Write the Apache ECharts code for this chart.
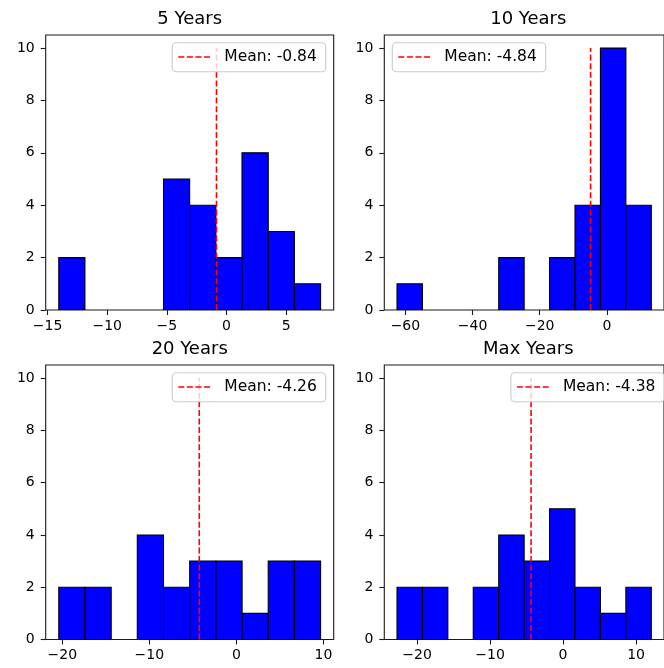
<!DOCTYPE html>
<html>
<head>
<meta charset="utf-8">
<script src="https://cdn.jsdelivr.net/npm/echarts@6/dist/echarts.min.js"></script>
<style>
  html, body { margin: 0; padding: 0; background: #ffffff; }
  #chart { width: 664px; height: 668px; }
</style>
</head>
<body>
<div id="chart"></div>
<script>
// Panel titles
const panelTitles = ['5 Years', '10 Years', '20 Years', 'Max Years'];

// Histogram bin edges (10 bins per panel)
const edges5 = [-14.06, -11.87, -9.67, -7.48, -5.28, -3.09, -0.89, 1.30, 3.50, 5.69, 7.89];
const edges10 = [-62.50, -54.93, -47.35, -39.78, -32.20, -24.63, -17.06, -9.48, -1.91, 5.67, 13.24];
const edges20 = [-20.40, -17.39, -14.38, -11.38, -8.37, -5.36, -2.35, 0.66, 3.66, 6.67, 9.68];
const edgesMax = [-22.74, -19.26, -15.78, -12.30, -8.81, -5.33, -1.85, 1.63, 5.12, 8.60, 12.08];

// Bin counts
const counts5 = [2, 0, 0, 0, 5, 4, 2, 6, 3, 1];
const counts10 = [1, 0, 0, 0, 2, 0, 2, 4, 10, 4];
const counts20 = [2, 2, 0, 4, 2, 3, 3, 1, 3, 3];
const countsMax = [2, 2, 0, 2, 4, 3, 5, 2, 1, 2];

// Mean of each distribution
const means = [-0.84, -4.84, -4.26, -4.38];

// Tick labels
const xTicks5 = [-15, -10, -5, 0, 5];
const xTicks10 = [-60, -40, -20, 0];
const xTicks20 = [-20, -10, 0, 10];
const xTicksMax = [-20, -10, 0, 10];
const yTicks = [0, 2, 4, 6, 8, 10];

const edgeSets = [edges5, edges10, edges20, edgesMax];
const countSets = [counts5, counts10, counts20, countsMax];
const xTickSets = [xTicks5, xTicks10, xTicks20, xTicksMax];
const legendSide = ['right', 'left', 'right', 'right'];

const FONT = 'DejaVu Sans';
const Y_MAX = 10.5;
const MEAN_LINE_TOP = 10;

// Panel boxes in pixels
const boxes = [
  { left: 45.7, top: 35, width: 288, height: 275 },
  { left: 384.3, top: 35, width: 288, height: 275 },
  { left: 45.7, top: 365, width: 288, height: 274.5 },
  { left: 384.3, top: 365, width: 288, height: 274.5 }
];

const fmt = v => String(v).replace('-', '\u2212');

const grids = [], xAxes = [], yAxes = [], series = [], graphics = [];

boxes.forEach((b, i) => {
  const edges = edgeSets[i];
  const counts = countSets[i];
  const lo = edges[0], hi = edges[edges.length - 1];
  const pad = (hi - lo) * 0.05;

  grids.push({
    left: b.left, top: b.top, width: b.width, height: b.height,
    show: true, borderColor: '#1a1a1a', borderWidth: 1.1, backgroundColor: 'transparent'
  });

  xAxes.push({
    type: 'value', gridIndex: i, min: lo - pad, max: hi + pad, position: 'bottom',
    axisLine: { show: false, onZero: false },
    splitLine: { show: false },
    axisTick: { show: true, length: 5, inside: false, customValues: xTickSets[i],
      lineStyle: { color: '#1a1a1a', width: 1.1 } },
    axisLabel: { customValues: xTickSets[i], formatter: fmt, margin: 9,
      color: '#000', fontFamily: FONT, fontSize: 14 }
  });

  yAxes.push({
    type: 'value', gridIndex: i, min: 0, max: Y_MAX, position: 'left',
    axisLine: { show: false, onZero: false },
    splitLine: { show: false },
    axisTick: { show: true, length: 5, inside: false, customValues: yTicks,
      lineStyle: { color: '#1a1a1a', width: 1.1 } },
    axisLabel: { customValues: yTicks, formatter: fmt, margin: 11,
      color: '#000', fontFamily: FONT, fontSize: 14 }
  });

  const binData = counts.map((c, k) => [edges[k], edges[k + 1], c]).filter(d => d[2] > 0);

  series.push({
    type: 'custom', xAxisIndex: i, yAxisIndex: i,
    encode: { x: [0, 1], y: 2 },
    data: binData,
    clip: true,
    renderItem: (params, api) => {
      const p0 = api.coord([api.value(0), 0]);
      const p1 = api.coord([api.value(1), api.value(2)]);
      return {
        type: 'rect',
        shape: { x: p0[0], y: p1[1], width: p1[0] - p0[0], height: p0[1] - p1[1] },
        style: { fill: '#0000ff', stroke: '#000000', lineWidth: 1.1 }
      };
    },
    z: 2
  });

  series.push({
    type: 'line', xAxisIndex: i, yAxisIndex: i,
    data: [[means[i], 0], [means[i], MEAN_LINE_TOP]],
    symbol: 'none',
    lineStyle: { color: '#ff0000', width: 1.6, type: [6, 2.6] },
    silent: true,
    z: 3
  });

  // Title above each panel
  graphics.push({
    type: 'text', z: 100,
    x: b.left + b.width / 2, y: b.top - 16,
    style: { text: panelTitles[i], fontFamily: FONT, fontSize: 18, fill: '#000',
      align: 'center', verticalAlign: 'middle' }
  });

  // Legend box
  const lw = 153.4, lh = 29;
  const lx = legendSide[i] === 'right' ? b.left + b.width - 8 - lw : b.left + 8;
  const ly = b.top + 7.7;
  graphics.push({
    type: 'rect', z: 100,
    shape: { x: lx, y: ly, width: lw, height: lh, r: 4 },
    style: { fill: 'rgba(255,255,255,0.8)', stroke: '#cccccc', lineWidth: 1.1 }
  });
  graphics.push({
    type: 'line', z: 101,
    shape: { x1: lx + 6, y1: ly + 14.3, x2: lx + 38.4, y2: ly + 14.3 },
    style: { stroke: '#ff0000', lineWidth: 1.6, lineDash: [6, 2.6] }
  });
  graphics.push({
    type: 'text', z: 101,
    x: lx + 52, y: ly + 14.5,
    style: { text: 'Mean: ' + means[i].toFixed(2), fontFamily: FONT, fontSize: 15.5,
      fill: '#000', align: 'left', verticalAlign: 'middle' }
  });
});

const chart = echarts.init(document.getElementById('chart'), null, { renderer: 'canvas' });
chart.setOption({
  animation: false,
  backgroundColor: '#ffffff',
  grid: grids,
  xAxis: xAxes,
  yAxis: yAxes,
  series: series,
  graphic: graphics
});
</script>
</body>
</html>
